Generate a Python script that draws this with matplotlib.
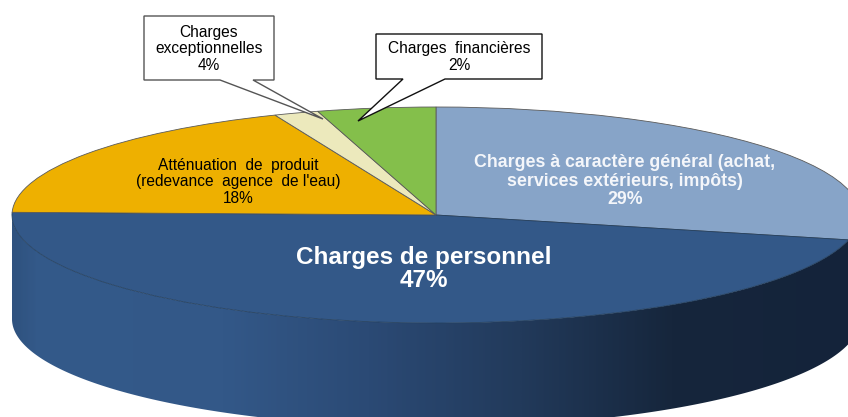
import numpy as np
import matplotlib
matplotlib.use('Agg')
import matplotlib.pyplot as plt
from matplotlib.colors import LinearSegmentedColormap
from matplotlib.patches import Polygon, PathPatch
from matplotlib.path import Path

# drawn shares (the printed labels differ for the two small ones)
categories = ['Charges à caractère général', 'Charges de personnel', 'Atténuation de produit',
              'Charges exceptionnelles', 'Charges financières']
shares = [28.7, 46.7, 18.4, 1.7, 4.5]
colors = ['#87a4c8', '#335888', '#eeb000', '#ece9bc', '#84bf4b']

W, H = 848, 417
CX, CY, RX, RY = 436, 215, 424, 108
DEPTH = 104


def fig_xy(x, y):
    # picture pixels -> figure fraction
    return x / W, 1 - y / H


plt.rcParams['font.family'] = ['Liberation Sans', 'DejaVu Sans']

fig = plt.figure(figsize=(W / 100, H / 100), dpi=100)
ax = fig.add_axes([0, 0, 1, 1])

wedges, _ = ax.pie(shares, colors=colors, startangle=90, counterclock=False,
                   wedgeprops=dict(edgecolor='#5a5a5a', linewidth=0.6))
for w, c in zip(wedges, colors):
    w.set_zorder(3)
wedges[1].set_edgecolor('#24405f')

# front wall of the pie, shaded left to right
t = np.linspace(np.pi, 2 * np.pi, 300)
top = np.column_stack([np.cos(t), np.sin(t)])
bottom = top - [0, DEPTH / RY]
side = Polygon(np.vstack([top, bottom[::-1]]), closed=True, fc='none', ec='none',
               transform=ax.transData)
ax.add_patch(side)
shade = LinearSegmentedColormap.from_list('side', [
    (0.00, '#2f527f'), (0.03, '#345a8a'), (0.25, '#335888'), (0.42, '#2b4a75'),
    (0.60, '#223a5b'), (0.78, '#16263c'), (1.00, '#14233a')])
im = ax.imshow(np.linspace(0, 1, 400).reshape(1, -1), cmap=shade, aspect='auto',
               extent=(-1, 1, -1 - DEPTH / RY, 0), zorder=1, interpolation='bilinear')
im.set_clip_path(side)

ax.set_aspect('auto')
ax.set_xlim(-CX / RX, (W - CX) / RX)
ax.set_ylim((CY - H) / RY, CY / RY)
ax.axis('off')


def callout(box, tail, ec):
    x0, y0, x1, y1 = box
    pts = [(x0, y0), (x1, y0), (x1, y1), tail[2], tail[1], tail[0], (x0, y1), (x0, y0)]
    pts = [fig_xy(*p) for p in pts]
    fig.add_artist(Polygon(pts, closed=True, fc='white', ec=ec, lw=1.0, transform=fig.transFigure,
                           zorder=5))


callout((144, 16, 274, 80), [(220, 80), (323, 119), (253, 80)], '#555555')
callout((376, 34, 542, 79), [(403, 79), (358, 121), (445, 79)], '#111111')


def label(x, y, s, size, color='black', bold=False, ls=1.12):
    fx, fy = fig_xy(x, y)
    fig.text(fx, fy, s, ha='center', va='center', fontsize=size, color=color,
             fontweight='bold' if bold else 'normal', linespacing=ls, zorder=6)


label(209, 49, 'Charges\nexceptionnelles\n4%', 11.2)
label(459, 57, 'Charges  financières\n2%', 11.2)
label(238, 182, 'Atténuation  de  produit\n(redevance  agence  de l\'eau)\n18%', 11.2)
label(625, 181, 'Charges à caractère général (achat,\nservices extérieurs, impôts)\n29%', 12.8,
      color='#f4f6fa', bold=True)
label(424, 269, 'Charges de personnel\n47%', 17.5, color='white', bold=True, ls=1.05)

fig.savefig('out.png', dpi=100, facecolor='white')
